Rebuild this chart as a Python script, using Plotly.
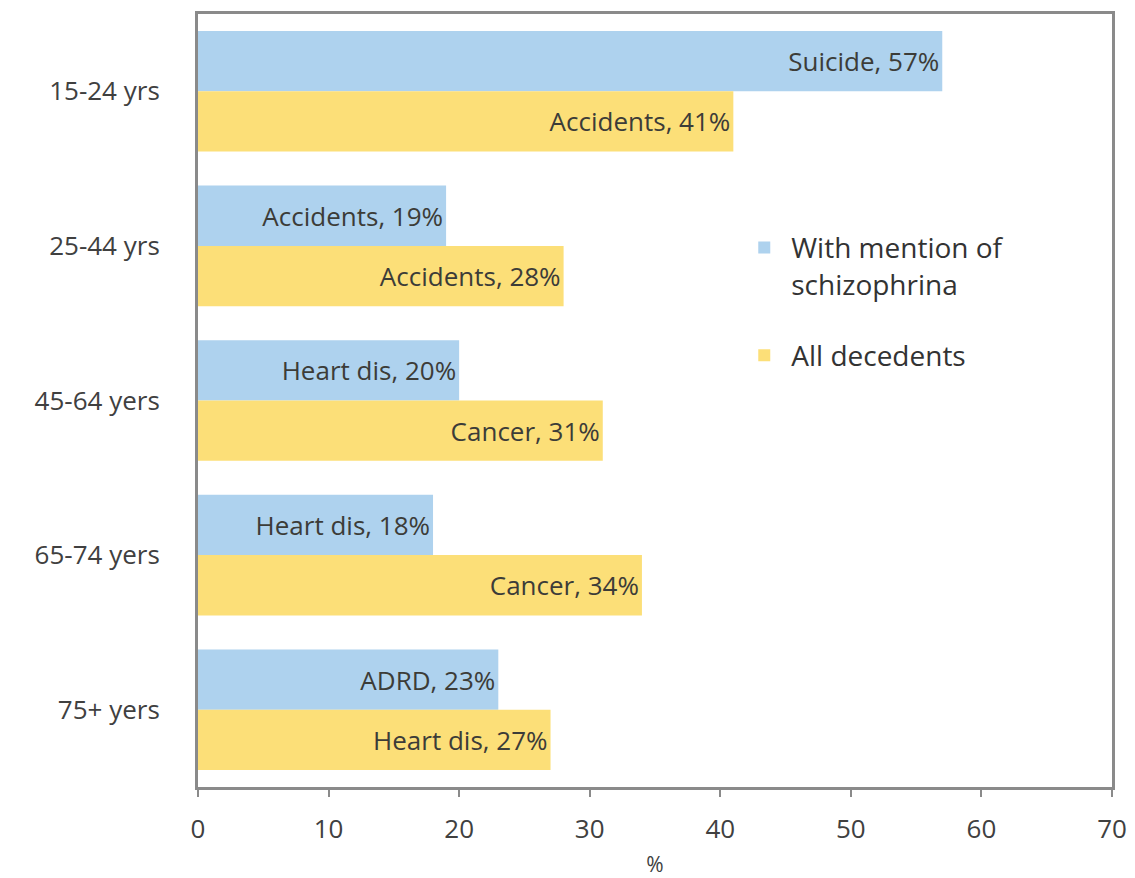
import plotly.graph_objects as go

# Age groups (top to bottom) and leading cause of death shares
age_groups = ["15-24 yrs", "25-44 yrs", "45-64 yers", "65-74 yers", "75+ yers"]

schizo_causes = ["Suicide", "Accidents", "Heart dis", "Heart dis", "ADRD"]
schizo_pct = [57, 19, 20, 18, 23]

all_causes = ["Accidents", "Accidents", "Cancer", "Cancer", "Heart dis"]
all_pct = [41, 28, 31, 34, 27]

x_ticks = [0, 10, 20, 30, 40, 50, 60, 70]

FONT = "Open Sans, Noto Sans, Liberation Sans, sans-serif"
BLUE = "#aed2ee"
YELLOW = "#fcdf78"
LABEL = "#3c3c38"
TEXT = "#404040"

fig = go.Figure()
fig.add_trace(go.Bar(
    y=age_groups, x=schizo_pct, orientation="h",
    name="With mention of<br>schizophrina", legendgroup="schizo",
    marker=dict(color=BLUE, line=dict(width=0)),
    text=[f"{c}, {v}%" for c, v in zip(schizo_causes, schizo_pct)],
    textposition="inside", insidetextanchor="end",
    textfont=dict(family=FONT, size=26, color=LABEL),
    constraintext="none",
))
fig.add_trace(go.Bar(
    y=age_groups, x=all_pct, orientation="h",
    name="All decedents", legendgroup="all",
    marker=dict(color=YELLOW, line=dict(width=0)),
    text=[f"{c}, {v}%" for c, v in zip(all_causes, all_pct)],
    textposition="inside", insidetextanchor="end",
    textfont=dict(family=FONT, size=26, color=LABEL),
    constraintext="none",
))

fig.update_layout(
    width=1135, height=878,
    margin=dict(l=198, r=23, t=14, b=91),
    paper_bgcolor="white", plot_bgcolor="white",
    barmode="group", bargap=0.22, bargroupgap=0,
    uniformtext=dict(mode=False),
    font=dict(family=FONT, color=TEXT),
    legend=dict(
        x=0.59, y=0.73, xanchor="left", yanchor="top",
        font=dict(family=FONT, size=28, color="#333333"),
        bgcolor="rgba(0,0,0,0)", itemwidth=44, tracegroupgap=32,
        traceorder="grouped", valign="top",
    ),
    xaxis=dict(
        range=[0, 70], tickvals=x_ticks, automargin=False,
        showline=True, linecolor="#8a8a8a", linewidth=3, mirror=True,
        ticks="outside", ticklen=7, tickwidth=2, tickcolor="#8a8a8a",
        showgrid=False, zeroline=False,
        tickfont=dict(family=FONT, size=26, color=TEXT),
        ticklabelstandoff=10,
        title=dict(text="%", font=dict(family=FONT, size=21, color=TEXT)),
    ),
    yaxis=dict(
        autorange="reversed", automargin=False,
        showline=True, linecolor="#8a8a8a", linewidth=3, mirror=True,
        ticks="", showgrid=False, zeroline=False,
        tickfont=dict(family=FONT, size=26, color=TEXT),
        ticklabelstandoff=30,
    ),
)

fig.write_html("out.html")
